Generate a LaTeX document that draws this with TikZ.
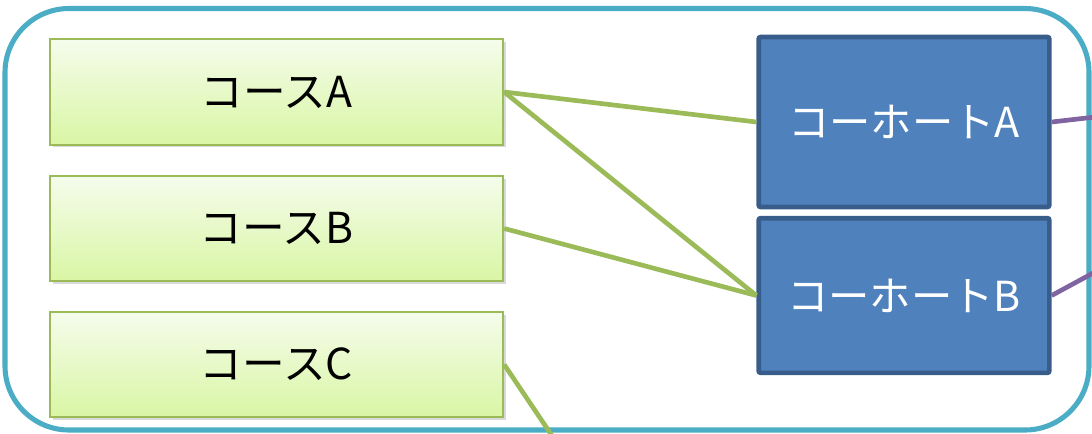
\documentclass[tikz,border=0pt]{standalone}
\usepackage{fontspec}
\setmainfont{Noto Sans CJK JP}
\usepackage{tikz}
\usetikzlibrary{shadows}
\definecolor{frameaqua}{RGB}{75,172,198}
\definecolor{coursegreen}{RGB}{155,187,89}
\definecolor{coursetop}{RGB}{245,252,236}
\definecolor{coursebot}{RGB}{217,246,164}
\definecolor{cohortblue}{RGB}{79,129,189}
\definecolor{cohortedge}{RGB}{56,93,138}
\definecolor{linkpurple}{RGB}{128,100,162}

\tikzset{
  course/.style={draw=coursegreen, line width=1.5pt, top color=coursetop, bottom color=coursebot,
    minimum width=340pt, minimum height=79pt, inner sep=0pt,
    font=\fontsize{32}{36}\selectfont,
    drop shadow={opacity=0.3, shadow xshift=2pt, shadow yshift=-2pt}},
  cohort/.style={draw=cohortedge, line width=3.5pt, fill=cohortblue, rounded corners=1.5pt,
    minimum width=218pt, inner sep=0pt, text=white,
    font=\fontsize{31}{36}\selectfont},
  greenlink/.style={coursegreen, line width=3.5pt},
  purplelink/.style={linkpurple, line width=3.5pt}
}

\begin{document}
\begin{tikzpicture}[x=0.75pt, y=-0.75pt]
    \useasboundingbox (0,0) rectangle (1092,433);
    \clip (0,0) rectangle (1092,433);

    % Outer frame
    \draw[frameaqua, line width=3.8pt, rounded corners=48pt] (5,8.5) rectangle (1089,430);

    % Courses
    \node[course] (courseA) at (276.5,92) {コースA};
    \node[course] (courseB) at (276.5,228.5) {コースB};
    \node[course] (courseC) at (276.5,364.5) {コースC};

    % Cohorts
    \node[cohort, minimum height=127.5pt] (cohortA) at (904,122) {コーホートA};
    \node[cohort, minimum height=116pt] (cohortB) at (904,295.5) {コーホートB};

    % Loose ends
    \coordinate (outC) at (575,470);
    \coordinate (outA) at (1130,113);
    \coordinate (outB) at (1130,253);

    % Links
    \draw[greenlink] (courseA.east) -- (cohortA.west);
    \draw[greenlink] (courseA.east) -- (cohortB.west);
    \draw[greenlink] (courseB.east) -- (cohortB.west);
    \draw[greenlink] (courseC.east) -- (outC);
    \draw[purplelink] (cohortA.east) -- (outA);
    \draw[purplelink] (cohortB.east) -- (outB);
\end{tikzpicture}
\end{document}
